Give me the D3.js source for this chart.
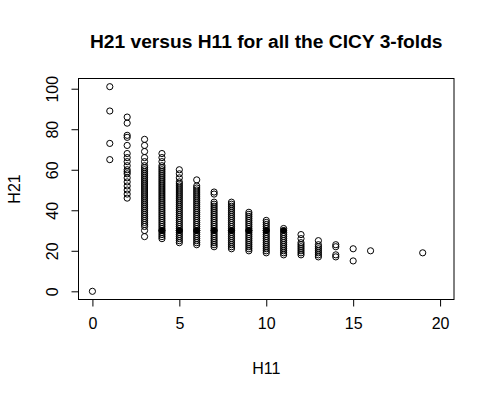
<!DOCTYPE html>
<html>
<head>
<meta charset="utf-8">
<script src="https://cdn.jsdelivr.net/npm/d3@7"></script>
<style>
  body { margin: 0; background: #fff; }
  text { font-family: "Liberation Sans", Arial, sans-serif; fill: #000; }
</style>
</head>
<body>
<script>
var width = 495
var height = 398

// h21 values, one list per h11 column
var h11_0 = [0]
var h11_1 = [101, 89, 73, 65]
var h11_2 = [86, 83, 77, 76, 72, 68, 66, 64, 62, 60, 59, 58, 56, 54, 52, 50, 48, 46]
var h11_3 = [75, 72, 69, 66, 64, 62, 61, 60, 59, 58, 57, 56, 55, 54, 53, 52, 51, 50, 49, 48,
             47, 46, 45, 44, 43, 42, 41, 40, 39, 38, 37, 36, 35, 34, 33, 32, 30, 27]
var h11_4 = [68, 66, 64, 62, 61, 60, 59, 58, 57, 56, 55, 54, 53, 52, 51, 50, 49, 48, 47, 46,
             45, 44, 43, 42, 41, 40, 39, 38, 37, 36, 35, 34, 33, 32, 31, 30, 29, 28, 27, 26]
var h11_5 = [60, 58, 56, 54, 53, 52, 51, 50, 49, 48, 47, 46, 45, 44, 43, 42, 41, 40, 39, 38,
             37, 36, 35, 34, 33, 32, 31, 30, 29, 28, 27, 26, 25, 24]
var h11_6 = [55, 52, 51, 50, 49, 48, 47, 46, 45, 44, 43, 42, 41, 40, 39, 38, 37, 36, 35, 34,
             33, 32, 31, 30, 29, 28, 27, 26, 25, 24, 23]
var h11_7 = [49, 48, 44, 43, 42, 41, 40, 39, 38, 37, 36, 35, 34, 33, 32, 31, 30, 29, 28, 27,
             26, 25, 24, 23, 22]
var h11_8 = [44, 43, 42, 41, 40, 39, 38, 37, 36, 35, 34, 33, 32, 31, 30, 29, 28, 27, 26, 25,
             24, 23, 22, 21]
var h11_9 = [39, 38, 37, 36, 35, 34, 33, 32, 31, 30, 29, 28, 27, 26, 25, 24, 23, 22, 21, 20]
var h11_10 = [35, 34, 33, 32, 31, 30, 29, 28, 27, 26, 25, 24, 23, 22, 21, 20, 19]
var h11_11 = [31, 29, 28, 27, 26, 25, 24, 23, 22, 21, 20, 19, 18]
var h11_12 = [28, 26, 24, 23, 22, 21, 20, 19, 18]
var h11_13 = [25, 23, 22, 21, 20, 19, 18, 17]
var h11_14 = [23, 22, 18, 17]
var h11_15 = [21, 15]
var h11_16 = [20]
var h11_19 = [19]

// spots where many manifolds share the same hodge pair (drawn as a dark blob)
var heavyH11 = [4, 5, 6, 7, 8, 9, 10, 11]
var heavyH21 = [30, 30, 30, 30, 30, 30, 30, 30]

var columns = [
    [0, h11_0], [1, h11_1], [2, h11_2], [3, h11_3], [4, h11_4], [5, h11_5],
    [6, h11_6], [7, h11_7], [8, h11_8], [9, h11_9], [10, h11_10], [11, h11_11],
    [12, h11_12], [13, h11_13], [14, h11_14], [15, h11_15], [16, h11_16], [19, h11_19]
]

var xTicks = [0, 5, 10, 15, 20]
var yTicks = [0, 20, 40, 60, 80, 100]

var points = []
columns.forEach(c => c[1].forEach(v => points.push({ h11: c[0], h21: v })))
var heavy = heavyH11.map((v, i) => ({ h11: v, h21: heavyH21[i] }))

var plotLeft = 78.5, plotRight = 454, plotTop = 78.5, plotBottom = 299.5

// R style: 4% padding around xlim = c(0, 20), ylim = c(0, 101)
var x = d3.scaleLinear().domain([-0.8, 20.8]).range([plotLeft, plotRight])
var y = d3.scaleLinear().domain([-4.04, 105.04]).range([plotBottom, plotTop])

var svg = d3.select('body').append('svg')
    .attr('width', width)
    .attr('height', height)

svg.append('rect')
    .attr('width', width).attr('height', height)
    .attr('fill', '#fff')

var xAxis = svg.append('g')
    .attr('transform', `translate(0,${plotBottom})`)
    .call(d3.axisBottom(x).tickValues(xTicks).tickSize(7).tickPadding(11).tickFormat(d3.format('d')))

xAxis.select('.domain')
    .attr('d', `M${x(0)},0H${x(20)}`)

var yAxis = svg.append('g')
    .attr('transform', `translate(${plotLeft},0)`)
    .call(d3.axisLeft(y).tickValues(yTicks).tickSize(7).tickFormat(d3.format('d')))

yAxis.select('.domain')
    .attr('d', `M0,${y(0)}V${y(100)}`)

yAxis.selectAll('.tick text')
    .attr('x', null).attr('dy', null)
    .attr('text-anchor', 'middle')
    .attr('transform', 'translate(-21,0) rotate(-90)')

svg.selectAll('.tick text')
    .style('font-size', '16px')
    .style('font-family', '"Liberation Sans", Arial, sans-serif')
svg.selectAll('.tick line, .domain').attr('stroke', '#000')

svg.append('rect')
    .attr('x', plotLeft).attr('y', plotTop)
    .attr('width', plotRight - plotLeft).attr('height', plotBottom - plotTop)
    .attr('fill', 'none')
    .attr('stroke', '#000')

svg.append('g')
    .selectAll('circle')
    .data(points)
    .join('circle')
    .attr('cx', d => x(d.h11))
    .attr('cy', d => y(d.h21))
    .attr('r', 3.1)
    .attr('fill', 'none')
    .attr('stroke', '#000')
    .attr('stroke-width', 1)

svg.append('g')
    .selectAll('circle')
    .data(heavy)
    .join('circle')
    .attr('cx', d => x(d.h11))
    .attr('cy', d => y(d.h21))
    .attr('r', 3.1)
    .attr('fill', '#000')
    .attr('stroke', '#000')

svg.append('text')
    .attr('x', (plotLeft + plotRight) / 2)
    .attr('y', 47.7)
    .attr('text-anchor', 'middle')
    .style('font-size', '19.2px')
    .style('font-weight', 'bold')
    .text('H21 versus H11 for all the CICY 3-folds')

svg.append('text')
    .attr('x', (plotLeft + plotRight) / 2)
    .attr('y', 373.5)
    .attr('text-anchor', 'middle')
    .style('font-size', '16px')
    .text('H11')

svg.append('text')
    .attr('transform', `translate(19.5,${(plotTop + plotBottom) / 2}) rotate(-90)`)
    .attr('text-anchor', 'middle')
    .style('font-size', '16px')
    .text('H21')
</script>
</body>
</html>
